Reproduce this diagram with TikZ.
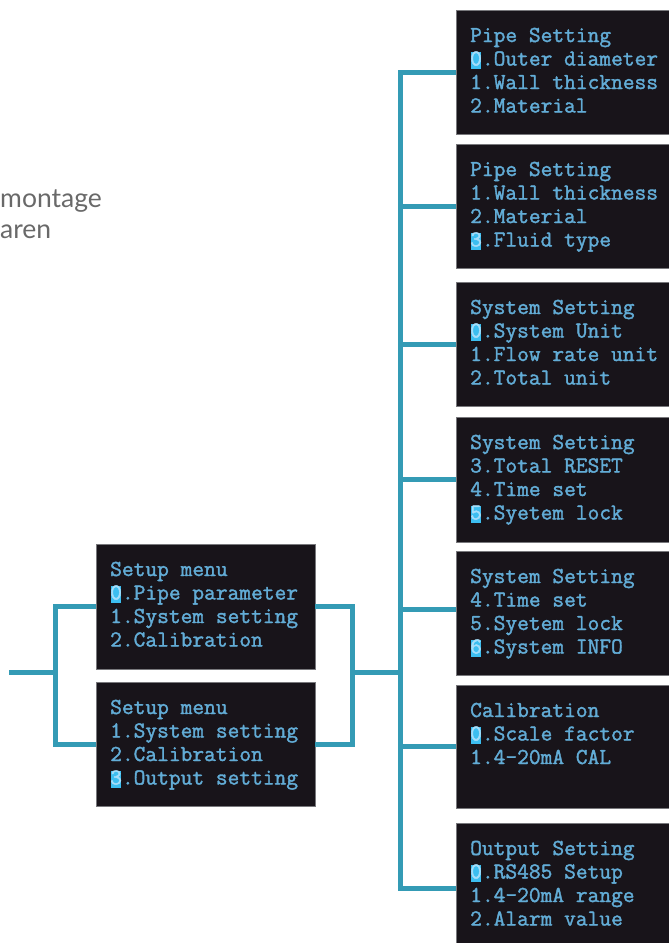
\documentclass[tikz,border=0pt]{standalone}
\usepackage{fontspec}
\newfontfamily\grayfont{Lato}
\newfontfamily\lcdfont{Latin Modern Mono}[FakeBold=1.6]
\definecolor{lcdbg}{RGB}{24,20,26}
\definecolor{lcdedge}{RGB}{120,120,124}
\definecolor{lcdfg}{RGB}{98,172,214}
\definecolor{hlc}{RGB}{60,190,240}
\definecolor{hld}{RGB}{165,222,250}
\definecolor{conncol}{RGB}{52,155,181}
\definecolor{graytxt}{RGB}{105,105,105}
\newcommand\hlbox[1]{\makebox[0pt][l]{\hspace{0.5pt}\color{hlc}\rule[-3pt]{10.5pt}{17pt}}\textcolor{hld}{#1}}
\begin{document}
\begin{tikzpicture}[x=1pt,y=-1pt,
  lcdbox/.style={fill=lcdbg, draw=lcdedge, line width=0.8pt, inner sep=0pt, outer sep=0pt, anchor=north west, minimum width=#1},
  lcdbox/.default=216pt,
  lcdtext/.style={anchor=base west, inner sep=0pt, text=lcdfg, font=\lcdfont\fontsize{22.8}{23.5}\selectfont, xshift=14pt, yshift=-32pt},
  conn/.style={draw=conncol, line width=5pt, line join=miter},
  graytext/.style={anchor=base west, inner sep=0pt, text=graytxt, font=\grayfont\fontsize{26.5}{31}\selectfont}
]
\useasboundingbox (0,0) rectangle (669,943);
\clip (0,0) rectangle (669,943);

% gray text
\node[graytext] (g1) at (0,207) {montage};
\node[graytext] (g2) at (0,238) {aren};

% right column boxes
\node[lcdbox, minimum height=124pt] (r1) at (456,10) {};
\node[lcdbox, minimum height=124pt] (r2) at (456,144) {};
\node[lcdbox, minimum height=124pt] (r3) at (456,282) {};
\node[lcdbox, minimum height=125pt] (r4) at (456,417) {};
\node[lcdbox, minimum height=124pt] (r5) at (456,551) {};
\node[lcdbox, minimum height=123pt] (r6) at (456,685) {};
\node[lcdbox, minimum height=130pt] (r7) at (456,823) {};

% left column boxes
\node[lcdbox=219pt, minimum height=125pt] (l1) at (96,544) {};
\node[lcdbox=219pt, minimum height=124pt] (l2) at (96,682) {};

% texts
\node[lcdtext] (r1t) at (r1.north west) {\parbox[t]{210pt}{Pipe Setting\\\hlbox{0}.Outer diameter\\1.Wall thickness\\2.Material}};
\node[lcdtext] (r2t) at (r2.north west) {\parbox[t]{210pt}{Pipe Setting\\1.Wall thickness\\2.Material\\\hlbox{3}.Fluid type}};
\node[lcdtext] (r3t) at (r3.north west) {\parbox[t]{210pt}{System Setting\\\hlbox{0}.System Unit\\1.Flow rate unit\\2.Total unit}};
\node[lcdtext] (r4t) at (r4.north west) {\parbox[t]{210pt}{System Setting\\3.Total RESET\\4.Time set\\\hlbox{5}.Syetem lock}};
\node[lcdtext] (r5t) at (r5.north west) {\parbox[t]{210pt}{System Setting\\4.Time set\\5.Syetem lock\\\hlbox{6}.System INFO}};
\node[lcdtext] (r6t) at (r6.north west) {\parbox[t]{210pt}{Calibration\\\hlbox{0}.Scale factor\\1.4-20mA CAL}};
\node[lcdtext] (r7t) at (r7.north west) {\parbox[t]{210pt}{Output Setting\\\hlbox{0}.RS485 Setup\\1.4-20mA range\\2.Alarm value}};
\node[lcdtext] (l1t) at (l1.north west) {\parbox[t]{210pt}{Setup menu\\\hlbox{0}.Pipe parameter\\1.System setting\\2.Calibration}};
\node[lcdtext] (l2t) at (l2.north west) {\parbox[t]{210pt}{Setup menu\\1.System setting\\2.Calibration\\\hlbox{3}.Output setting}};

% connector coordinates
\coordinate (ls) at (55,0);
\coordinate (ms) at (352,0);
\coordinate (rs) at (400,0);
\coordinate (inL) at (9,672);

% left bracket
\draw[conn] (l1.west) -| (ls |- l2.west) -- (l2.west);
\draw[conn] (inL) -- (inL -| ls);
% middle bracket
\draw[conn] (l1.east) -| (ms |- l2.east) -- (l2.east);
\draw[conn] (ms |- inL) -- (rs |- inL);
% right spine
\draw[conn] (r1.west) -| (rs |- r7.west) -- (r7.west);
\draw[conn] (rs |- r2.west) -- (r2.west);
\draw[conn] (rs |- r3.west) -- (r3.west);
\draw[conn] (rs |- r4.west) -- (r4.west);
\draw[conn] ([yshift=4pt]r5.west -| rs) -- ([yshift=4pt]r5.west);
\draw[conn] (rs |- r6.west) -- (r6.west);
\end{tikzpicture}
\end{document}
